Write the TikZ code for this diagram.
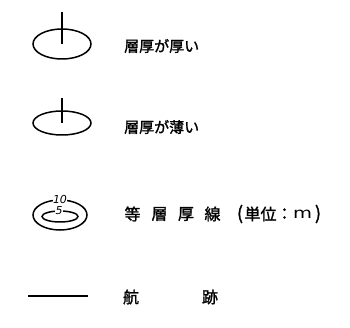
\documentclass[tikz,border=0pt]{standalone}
\usepackage{fontspec}
\newfontfamily\jp[FakeBold=1.5]{Noto Sans CJK JP}
\newfontfamily\lat{DejaVu Sans}
\begin{document}
\begin{tikzpicture}[x=1pt,y=-1pt,
  sym/.style={line width=1.5pt},
  lbl/.style={font=\jp\fontsize{15}{15}\selectfont, inner sep=0pt, anchor=west},
  ch/.style={font=\jp\fontsize{16}{16}\selectfont, inner sep=0pt},
  num/.style={font=\lat\itshape\fontsize{11}{11}\selectfont, fill=white, inner sep=0.4pt}]
\useasboundingbox (0,0) rectangle (350,328);
% row 1
\coordinate (c1) at (62,44);
\coordinate (t1) at (62,12);
\draw[sym] (c1) ellipse [x radius=29, y radius=15];
\draw[sym] (t1) -- (c1);
\node[lbl] (l1) at (124,46) {層厚が厚い};
% row 2
\coordinate (c2) at (62,123);
\coordinate (t2) at (62,98);
\draw[sym] (c2) ellipse [x radius=29, y radius=12];
\draw[sym] (t2) -- (c2);
\draw[line width=2.4pt] (62,102) -- (62,108);
\node[lbl] (l2) at (124,127) {層厚が薄い};
% row 3
\coordinate (c3) at (60,215);
\draw[sym] (c3) ellipse [x radius=27, y radius=15];
\draw[sym] (60,216.5) ellipse [x radius=18, y radius=5.5];
\node[num] (n10) at (60,199) {10};
\node[num] (n5) at (59,211) {5};
\node[ch] (k1) at (132.5,214) {等};
\node[ch] (k2) at (159.5,214) {層};
\node[ch] (k3) at (186,214) {厚};
\node[ch] (k4) at (212.5,214) {線};
\node[ch,font=\jp\fontsize{18}{18}\selectfont] (p1) at (240,214) {(};
\node[ch] (k5) at (260.5,214) {単位};
\node[ch] (k6) at (284.5,214) {：};
\node[ch,font=\lat\fontsize{15}{15}\selectfont,xscale=1.3] (k7) at (302.5,214) {m};
\node[ch,font=\jp\fontsize{18}{18}\selectfont] (p2) at (318,214) {)};
% row 4
\coordinate (a) at (28,296);
\coordinate (b) at (88,296);
\draw[sym] (a) -- (b);
\node[ch] (r1) at (131,297) {航};
\node[ch] (r2) at (210,297) {跡};
\end{tikzpicture}
\end{document}
